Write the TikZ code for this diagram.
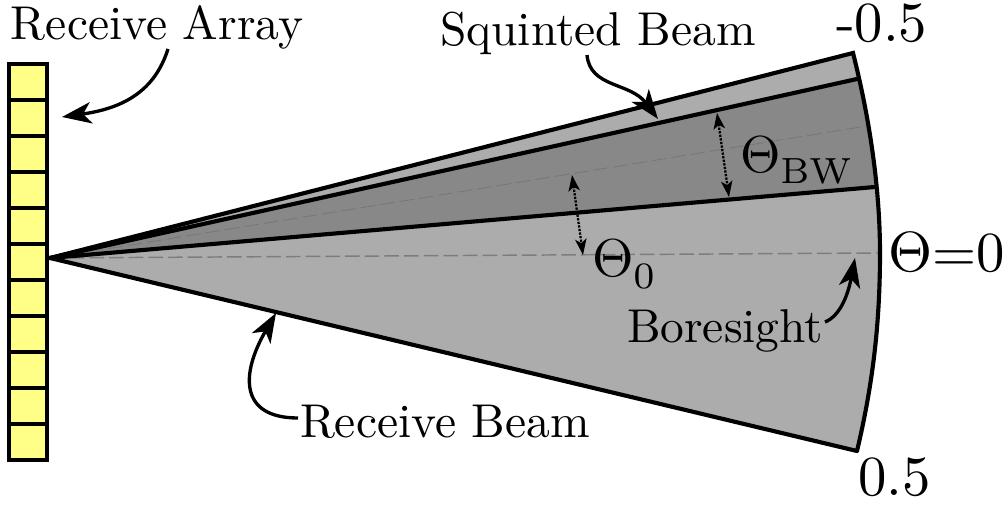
\documentclass[tikz,border=0pt]{standalone}
\usetikzlibrary{arrows.meta}
\definecolor{beamlight}{RGB}{172,172,172}
\definecolor{beamdark}{RGB}{136,136,136}
\definecolor{cellyellow}{RGB}{255,255,136}
\definecolor{dashgray}{RGB}{125,125,125}
\definecolor{dashdark}{RGB}{118,118,118}
\tikzset{
  x=0.75pt,y=-0.75pt,
  beamedge/.style={line width=3.1pt,line join=miter,line cap=round},
  cellbox/.style={draw=black,line width=3pt,fill=cellyellow,minimum width=28pt,minimum height=27pt,inner sep=0pt,outer sep=0pt},
  callout/.style={line width=2.5pt,-{Stealth[length=22pt,width=16pt,inset=6pt]}},
  spanarrow/.style={line width=1.7pt,densely dotted,{Stealth[length=12pt,width=8.5pt,inset=3pt]}-{Stealth[length=12pt,width=8.5pt,inset=3pt]}},
  axisline/.style={line width=1.1pt,dash pattern=on 11pt off 3.75pt},
  basetext/.style={anchor=base west,inner sep=0pt,outer sep=0pt},
  label/.style={basetext,scale=3.56},
  biglabel/.style={basetext,scale=4.25},
}
\begin{document}
\begin{tikzpicture}
\useasboundingbox (0,0) rectangle (1008,506);
% geometry
\coordinate (apex) at (50,258);
\coordinate (A) at (853,53);
\coordinate (Q) at (857,79);
\coordinate (M) at (867,126);
\coordinate (P) at (875,187);
\coordinate (R) at (880,253);
\coordinate (B) at (857,451);
\coordinate (RE) at (878,253);
% beams
\fill[beamlight] (apex) -- (A) .. controls (869.6,118.5) and (880,188.4) .. (R)
   .. controls (880,323.6) and (872.8,384.3) .. (B) -- cycle;
\fill[beamdark] (apex) -- (Q) .. controls (865,113) and (871,150) .. (P) -- cycle;
\draw[axisline,dashdark,line width=0.6pt] (apex) -- (M);
\draw[axisline,dashgray] (apex) -- (RE);
\draw[beamedge] (apex) -- (Q);
\draw[beamedge] (apex) -- (P);
\draw[beamedge] (B) -- (apex) -- (A) .. controls (869.6,118.5) and (880,188.4) .. (R)
   .. controls (880,323.6) and (872.8,384.3) .. (B);
% array
\foreach \i in {0,...,10} {
  \node[cellbox] (cell\i) at (28,{82+36*\i}) {};
}
% labels
\node[label] (recarray) at (11,40) {Receive Array};
\node[label] (squint) at (440,46) {Squinted Beam};
\node[label] (recbeam) at (300,437) {Receive Beam};
\node[label] (bore) at (627,343) {Boresight};
\node[biglabel] (minus) at (836,42) {-0.5};
\node[biglabel] (plus) at (858,495) {0.5};
\node[biglabel] (zero) at (888,272) {$\Theta{=}0$};
\node[basetext,scale=3.9] (tbw) at (740,173) {$\Theta_{\lower0.6pt\hbox{$\scriptstyle\mathrm{BW}$}}$};
\node[basetext,scale=4] (t0) at (592,277) {$\Theta_{\lower0.7pt\hbox{$\scriptstyle 0$}}$};
% callouts
\coordinate (c1a) at (168,49);
\coordinate (c1b) at (62,117);
\draw[callout] (c1a) .. controls (155,90) and (125,108) .. (c1b);
\coordinate (c2a) at (587,55);
\coordinate (c2b) at (658,119);
\draw[callout] (c2a) .. controls (590,88) and (630,82) .. (c2b);
\coordinate (c3a) at (298,418);
\coordinate (c3b) at (276,313);
\draw[callout] (c3a) .. controls (240,418) and (240,375) .. (c3b);
\coordinate (c4a) at (825,322);
\coordinate (c4b) at (855,258);
\draw[callout] (c4a) .. controls (840,316) and (848,295) .. (c4b);
% spans
\coordinate (s1a) at (717,113);
\coordinate (s1b) at (729,197);
\draw[spanarrow] (s1a) -- (s1b);
\coordinate (s2a) at (572,175);
\coordinate (s2b) at (583,255);
\draw[spanarrow] (s2a) -- (s2b);
\end{tikzpicture}
\end{document}
